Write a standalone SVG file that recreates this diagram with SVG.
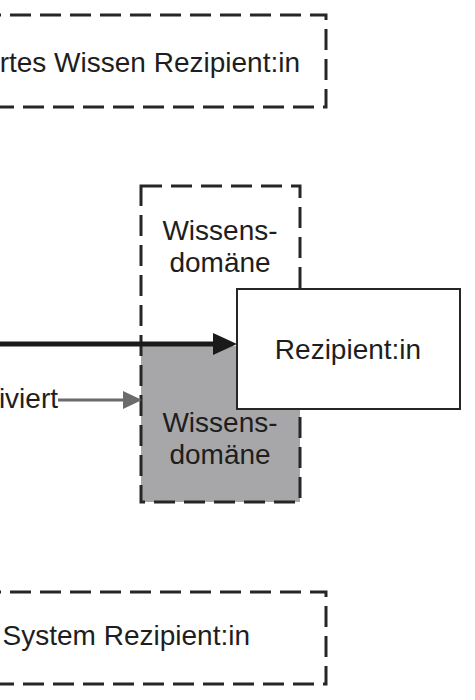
<svg xmlns="http://www.w3.org/2000/svg" width="475" height="700" viewBox="0 0 475 700">
<style>
.t{font-family:"Liberation Sans",Arial,sans-serif;font-size:28px;fill:#1e1e1e}
.dash{fill:none;stroke:#262626;stroke-width:3;stroke-dasharray:21 9}
</style>
<rect width="475" height="700" fill="#ffffff"/>
<g id="top-box">
<rect x="-20" y="15" width="346" height="92" class="dash"/>
<text class="t" x="300" y="72" text-anchor="end">ertes Wissen Rezipient:in</text>
</g>
<g id="wissensdomaene">
<rect x="141" y="346" width="159" height="156" fill="#a7a7a9"/>
<rect x="141" y="186" width="159" height="316" class="dash"/>
<text class="t" x="220" y="240" text-anchor="middle">Wissens-</text>
<text class="t" x="220" y="272" text-anchor="middle">domäne</text>
<text class="t" x="220" y="432" text-anchor="middle">Wissens-</text>
<text class="t" x="220" y="464" text-anchor="middle">domäne</text>
</g>
<g id="rezipient">
<rect x="237" y="289" width="223" height="120" fill="#ffffff" stroke="#262626" stroke-width="2"/>
<text class="t" x="348" y="359" text-anchor="middle">Rezipient:in</text>
</g>
<g id="aktiviert-label">
<text class="t" x="58" y="408" text-anchor="end">iviert</text>
</g>
<g id="bottom-box">
<rect x="-20" y="592" width="346" height="92" class="dash"/>
<text class="t" x="250" y="645" text-anchor="end">s System Rezipient:in</text>
</g>
<g id="connectors">
<line x1="-5" y1="344" x2="215" y2="344" stroke="#1a1a1a" stroke-width="5"/>
<polygon points="213,333 237,344 213,355" fill="#1a1a1a"/>
<line x1="58" y1="400" x2="125" y2="400" stroke="#6b6b6d" stroke-width="3"/>
<polygon points="123,391 142,400 123,409" fill="#6b6b6d"/>
</g>
</svg>
